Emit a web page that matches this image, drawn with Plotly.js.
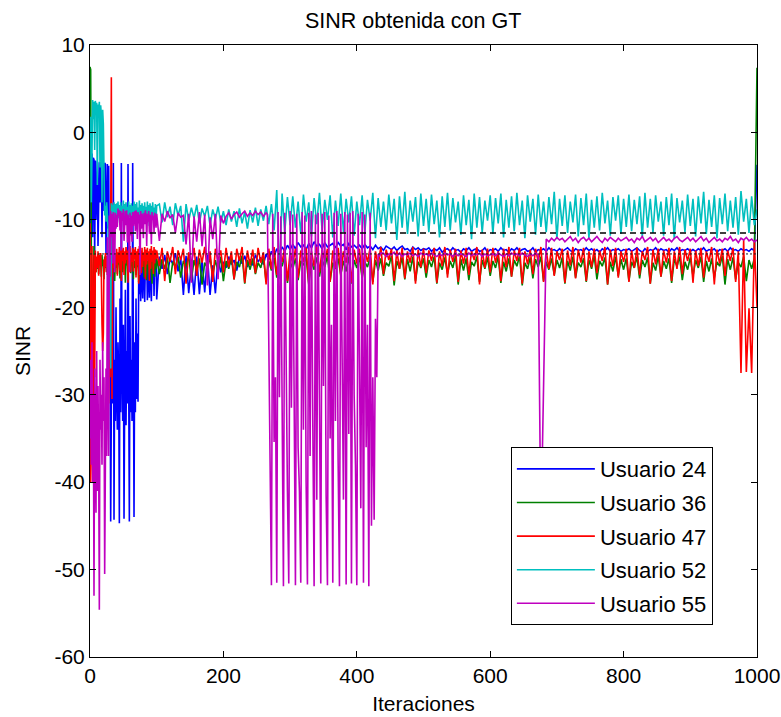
<!DOCTYPE html>
<html><head><meta charset="utf-8">
<script src="https://cdn.plot.ly/plotly-3.0.1.min.js"></script>
<style>html,body{margin:0;padding:0;background:#fff}#chart{width:781px;height:717px}</style>
</head><body><div id="chart"></div>
<script>
// Iteration grids (start, end, step) — sampling of the 1000 iterations
function malla(tramos) { const xs = []; for (const [a, b, p] of tramos) for (let v = a; v <= b; v += p) xs.push(v); return xs; }
const mallaGeneral = malla([[0, 100, 1], [104, 1000, 4]]);
const mallaU55 = malla([[0, 100, 1], [104, 264, 4], [266, 436, 2], [440, 1000, 4]]);

const nombres = ['Usuario 24', 'Usuario 36', 'Usuario 47', 'Usuario 52', 'Usuario 55'];
const colores = ['#0000ff', '#008000', '#ff0000', '#00bfbf', '#bf00bf'];
const umbrales = [-11.5, -13.9];

const usuario24 = [
  // 0..100 (step 1)
  -13.5,-2.0,-6.0,-2.4,-12.0,-2.9,-3.1,-14.0,-3.2,-10.0,
  -3.3,-3.3,-13.0,-3.4,-3.4,-8.0,-3.4,-3.5,-12.0,-3.5,
  -3.6,-9.0,-3.5,-3.6,-14.0,-3.7,-3.6,-11.0,-3.8,-16.0,
  -22.0,-44.5,-28.0,-18.0,-31.0,-3.5,-44.3,-26.0,-33.0,-20.0,
  -30.0,-34.0,-24.0,-28.0,-44.7,-19.0,-32.0,-3.5,-27.0,-33.0,
  -22.0,-44.2,-30.0,-18.0,-33.5,-25.0,-31.0,-3.6,-28.0,-44.5,
  -21.0,-32.0,-26.0,-33.0,-3.5,-29.0,-44.0,-24.0,-32.0,-19.0,
  -30.5,-23.0,-30.8,-17.0,-18.5,-15.0,-19.3,-14.5,-16.2,-19.0,
  -14.2,-15.5,-19.4,-14.8,-16.5,-14.1,-19.2,-15.0,-14.4,-18.9,
  -14.0,-15.8,-19.3,-14.6,-15.2,-14.3,-18.7,-14.9,-15.6,-14.2,
  -19.1,
  // 104..1000 (step 4)
  -14.2,-15.6,-14.0,-16.2,-14.5, -15.0,-13.8,-15.9,-14.4,-18.6, -14.1,-18.4,-15.0,-18.6,-14.2, -18.5,-14.6,-18.3,-14.0,-18.6, -15.2,-18.4,-14.3,-16.0,-14.8,
  -15.5,-14.2,-15.1,-14.6,-15.8, -14.3,-15.0,-14.1,-15.4,-14.5, -15.2,-14.0,-14.8,-14.3,-15.1, -13.9,-14.6,-13.6,-14.2,-13.3, -13.8,-13.1,-13.6,-12.9,-13.4,
  -12.8,-13.3,-12.6,-13.1,-12.9, -13.4,-12.7,-13.2,-12.5,-13.0, -12.8,-13.3,-12.6,-13.1,-12.9, -12.7,-13.2,-12.6,-13.0,-12.8, -13.4,-12.7,-13.1,-12.9,-13.2,
  -12.9,-13.3,-12.8,-13.2,-13.0, -13.4,-12.9,-13.3,-13.1,-13.5, -13.0,-13.2,-13.4,-13.1,-13.5, -13.2,-13.0,-13.4,-13.3,-13.6, -13.1,-13.4,-13.2,-13.5,-13.3,
  -13.4,-13.2,-13.6,-13.3,-13.5, -13.2,-13.7,-13.4,-13.3,-13.6, -13.2,-13.5,-13.4,-13.7,-13.3, -13.5,-13.2,-13.6,-13.4,-13.3, -13.6,-13.5,-13.2,-13.7,-13.4,
  -13.5,-13.3,-13.6,-13.2,-13.5, -13.4,-13.7,-13.3,-13.5,-13.2, -13.6,-13.4,-13.3,-13.6,-13.5, -13.2,-13.7,-13.4,-13.5,-13.3, -13.6,-13.2,-13.5,-13.4,-13.6,
  -13.3,-13.6,-13.4,-13.2,-13.5, -13.7,-13.3,-13.5,-13.4,-13.6, -13.2,-13.5,-13.3,-13.6,-13.4, -13.7,-13.3,-13.5,-13.2,-13.6, -13.4,-13.5,-13.3,-13.6,-13.4,
  -13.5,-13.3,-13.6,-13.4,-13.2, -13.5,-13.7,-13.3,-13.6,-13.4, -13.5,-13.2,-13.6,-13.3,-13.5, -13.4,-13.7,-13.3,-13.5,-13.2, -13.6,-13.4,-13.5,-13.3,-13.6,
  -13.4,-13.6,-13.3,-13.5,-13.2, -13.6,-13.4,-13.5,-13.3,-13.7, -13.4,-13.5,-13.3,-13.6,-13.2, -13.5,-13.4,-13.6,-13.3,-13.5, -13.4,-13.6,-13.3,-13.5,-3.7
];

const usuario36 = [
  7.5,7.2,-14.0,-22.0,-30.0,-18.0,-13.0,-20.0,-14.8,-16.0,
  -14.5,-15.6,-13.9,-16.2,-14.3,-15.1,-14.7,-16.5,-14.0,-15.3,
  -14.6,-16.8,-14.2,-15.5,-14.9,-16.0,-14.1,-15.7,-14.4,-16.4,
  -14.8,-15.2,-14.0,-16.6,-14.5,-15.4,-14.2,-17.0,-14.7,-15.5,
  -14.3,-16.2,-14.9,-15.1,-14.0,-16.7,-14.6,-15.3,-14.4,-16.0,
  -14.8,-15.6,-14.1,-17.2,-14.5,-15.2,-14.3,-16.4,-14.9,-15.7,
  -14.2,-16.1,-14.6,-15.3,-14.0,-16.8,-14.7,-15.5,-14.4,-16.3,
  -14.8,-15.4,-14.1,-17.1,-14.5,-15.8,-14.3,-16.0,-14.9,-15.2,
  -14.2,-16.6,-14.6,-15.5,-14.0,-16.9,-14.7,-15.3,-14.4,-16.2,
  -14.8,-15.7,-14.2,-17.3,-14.5,-15.4,-14.3,-16.5,-14.9,-15.6,
  -14.4,
  -16.2,-14.5,-15.6,-14.3,-17.2, -14.8,-15.4,-14.2,-16.6,-14.7, -15.3,-14.1,-16.9,-14.6,-15.8, -14.4,-17.4,-14.9,-15.5,-14.3, -16.4,-14.6,-15.9,-14.2,-17.0,
  -14.7,-15.6,-14.3,-16.8,-14.8, -15.4,-14.1,-17.3,-14.6,-15.7, -14.4,-16.2,-14.9,-15.5,-14.2, -17.1,-14.7,-15.8,-14.3,-16.6, -14.5,-15.3,-14.1,-17.2,-14.8,
  -15.6,-14.4,-16.9,-14.7,-15.2, -14.2,-17.4,-14.8,-15.7,-14.3, -16.5,-14.6,-15.4,-14.1,-17.0, -14.9,-15.6,-14.4,-16.3,-14.7, -15.9,-14.2,-17.3,-14.6,-15.5,
  -14.3,-16.7,-14.8,-15.4,-14.2, -17.1,-14.6,-15.8,-14.4,-16.4, -14.9,-15.3,-14.1,-17.5,-14.7, -15.6,-14.3,-16.8,-14.5,-15.9, -14.2,-17.0,-14.8,-15.5,-14.4,
  -16.6,-14.6,-15.4,-14.2,-17.3, -14.9,-15.7,-14.3,-16.2,-14.7, -15.5,-14.1,-17.4,-14.5,-15.8, -14.4,-16.9,-14.8,-15.3,-14.2, -17.1,-14.6,-15.6,-14.3,-16.4,
  -14.7,-15.5,-14.2,-17.2,-14.8, -15.9,-14.4,-16.5,-14.6,-15.3, -14.1,-17.5,-14.9,-15.6,-14.3, -16.7,-14.5,-15.4,-14.2,-17.0, -14.8,-15.7,-14.4,-16.3,-14.6,
  -15.5,-14.3,-17.3,-14.7,-15.8, -14.2,-16.6,-14.9,-15.4,-14.4, -17.1,-14.6,-15.6,-14.1,-16.8, -14.7,-15.3,-14.3,-17.4,-14.8, -15.9,-14.2,-16.4,-14.5,-15.7,
  -14.4,-17.0,-14.8,-15.5,-14.2, -16.7,-14.6,-15.4,-14.3,-17.3, -14.9,-15.8,-14.1,-16.5,-14.7, -15.6,-14.4,-17.2,-14.5,-15.3, -14.2,-16.9,-14.8,-15.7,-14.3,
  -16.4,-14.6,-15.5,-14.2,-17.1, -14.7,-15.9,-14.4,-16.6,-14.8, -15.3,-14.1,-17.4,-14.5,-15.7, -14.3,-16.8,-14.9,-15.4,-14.2, -17.0,-14.6,-15.6,-14.4,7.4
];

const usuario47 = [
  -10.4,-40.0,-36.0,-13.0,-26.0,-30.0,-14.0,-28.0,-13.5,-16.0,
  -14.2,-15.5,-13.6,-16.4,-14.0,-15.2,-13.8,-16.0,-22.0,-25.0,
  -23.0,-14.5,-16.0,-13.8,-15.4,-14.1,-16.3,-13.9,-31.0,-22.0,
  -28.0,-14.0,6.3,-30.5,-13.5,-15.5,-13.2,-16.0,-14.0,-15.2,
  -13.3,-16.4,-13.7,-14.9,-13.1,-15.8,-13.5,-17.0,-13.4,-14.7,
  -13.2,-16.3,-13.6,-15.0,-13.1,-14.6,-13.5,-17.2,-13.3,-15.5,
  -13.0,-16.0,-13.7,-14.8,-13.2,-15.9,-13.4,-14.5,-13.1,-16.6,
  -13.6,-15.2,-13.3,-17.3,-13.0,-14.9,-13.5,-16.1,-13.2,-15.4,
  -13.7,-14.7,-13.1,-16.8,-13.4,-15.1,-13.2,-14.6,-13.6,-17.0,
  -13.3,-15.6,-13.0,-14.8,-13.5,-16.2,-13.1,-15.0,-13.4,-14.5,
  -13.5,
  -15.3,-13.2,-17.0,-13.6,-14.8, -13.1,-16.2,-13.5,-14.6,-13.3, -17.3,-13.7,-15.0,-13.2,-16.4, -13.4,-14.9,-13.1,-15.7,-13.6, -17.1,-13.3,-14.7,-13.5,-16.0,
  -13.2,-15.4,-13.6,-16.8,-13.3, -14.7,-13.1,-17.2,-13.5,-15.2, -13.4,-16.1,-13.2,-14.9,-13.7, -17.4,-13.3,-15.6,-13.1,-16.3, -13.5,-14.8,-13.2,-17.0,-13.6,
  -15.1,-13.3,-16.6,-13.5,-14.8, -13.2,-17.3,-13.6,-15.3,-13.1, -16.0,-13.4,-14.7,-13.3,-17.1, -13.5,-15.5,-13.2,-16.4,-13.6, -14.9,-13.1,-17.2,-13.4,-15.0,
  -13.3,-16.5,-13.5,-14.8,-13.2, -17.4,-13.6,-15.2,-13.1,-16.2, -13.4,-14.6,-13.3,-17.0,-13.5, -15.6,-13.2,-16.7,-13.6,-14.9, -13.1,-17.3,-13.4,-15.4,-13.3,
  -16.1,-13.5,-14.7,-13.2,-17.2, -13.6,-15.3,-13.1,-16.6,-13.4, -14.8,-13.3,-17.1,-13.5,-15.0, -13.2,-16.3,-13.6,-14.6,-13.1, -17.4,-13.4,-15.5,-13.3,-16.0,
  -13.2,-14.9,-13.6,-17.0,-13.3, -15.4,-13.1,-16.5,-13.5,-14.7, -13.2,-17.3,-13.6,-15.1,-13.4, -16.2,-13.3,-14.8,-13.1,-17.1, -13.5,-15.6,-13.2,-16.4,-13.6,
  -14.6,-13.3,-17.2,-13.5,-15.2, -13.1,-16.7,-13.4,-14.9,-13.2, -17.0,-13.6,-15.4,-13.3,-16.1, -13.5,-14.7,-13.1,-17.4,-13.4, -15.3,-13.2,-16.6,-13.6,-14.8,
  -13.3,-17.1,-13.5,-15.5,-13.2, -16.3,-13.6,-14.6,-13.1,-17.3, -13.4,-15.1,-13.3,-16.5,-13.5, -14.9,-13.2,-17.0,-13.6,-15.6, -13.1,-16.2,-13.4,-14.7,-13.3,
  -17.2,-13.5,-15.3,-13.2,-16.6, -13.6,-14.8,-13.1,-17.4,-13.4, -15.0,-13.3,-16.4,-13.5,-14.7, -13.2,-17.1,-13.6,-27.5,-12.3, -27.4,-20.1,-27.5,-12.4,-20.0
];

const usuario52 = [
  0.5,1.8,-8.0,0.2,3.7,1.5,3.5,-2.0,3.6,2.8,
  3.4,-6.0,3.2,2.5,3.5,-4.0,3.1,2.0,-8.0,2.6,
  1.0,-8.2,-9.5,-8.4,-10.2,-8.0,-9.1,-10.8,-26.0,-12.0,
  -10.0,-27.0,-8.1,-10.5,-8.3,-9.6,-8.0,-10.2,-8.2,-9.4,
  -8.1,-10.3,-7.9,-9.8,-8.3,-10.6,-8.0,-9.5,-8.4,-10.1,
  -7.8,-9.9,-8.2,-10.4,-8.0,-9.6,-8.5,-10.2,-7.9,-9.7,
  -8.3,-10.5,-8.1,-9.4,-8.4,-10.0,-7.9,-9.8,-8.2,-10.6,
  -8.0,-9.5,-8.6,-10.3,-7.8,-9.9,-8.3,-10.1,-8.1,-9.6,
  -8.4,-10.4,-8.0,-9.7,-8.5,-10.2,-7.9,-9.5,-8.3,-10.7,
  -8.1,-9.8,-8.4,-10.0,-8.0,-9.6,-8.6,-10.3,-8.2,-9.9,
  -8.4,
  -8.2,-10.3,-8.0,-9.7,-8.5, -10.6,-8.1,-9.5,-8.4,-12.5, -8.2,-10.1,-8.6,-9.8,-8.3, -10.4,-8.7,-9.6,-8.4,-10.7, -8.8,-9.9,-8.5,-10.3,-9.0,
  -10.6,-8.8,-10.2,-9.0,-10.8, -8.7,-10.4,-9.1,-11.0,-8.9, -10.3,-8.6,-10.7,-8.8,-10.1, -8.4,-10.5,-8.2,-11.2,-6.6, -16.8,-7.0,-11.5,-7.4,-10.6,
  -7.3,-10.9,-7.9,-11.6,-7.1, -10.2,-8.0,-11.9,-7.5,-10.5, -6.9,-11.3,-7.7,-10.0,-7.2, -12.0,-7.8,-10.7,-7.0,-11.4, -7.6,-10.3,-7.3,-11.8,-7.9,
  -10.6,-7.2,-11.5,-7.7,-10.1, -6.9,-12.1,-7.5,-10.8,-7.9, -11.2,-7.1,-10.4,-7.6,-12.3, -7.3,-10.9,-6.8,-11.6,-7.8, -10.2,-7.4,-11.9,-7.0,-10.7,
  -7.6,-11.4,-7.1,-10.5,-7.8, -12.0,-7.3,-10.8,-6.9,-11.2, -7.5,-10.3,-7.9,-11.7,-7.2, -10.6,-7.7,-12.2,-7.0,-10.9, -7.4,-11.5,-7.8,-10.1,-7.2,
  -11.6,-7.5,-10.4,-7.0,-12.0, -7.7,-10.9,-7.3,-11.3,-6.9, -10.6,-7.8,-12.1,-7.2,-10.2, -7.6,-11.7,-7.1,-10.8,-7.9, -11.4,-7.4,-10.5,-6.8,-12.2,
  -7.6,-10.7,-7.2,-11.5,-7.9, -10.3,-7.1,-11.9,-7.5,-10.6, -7.0,-12.1,-7.7,-10.9,-7.3, -11.2,-6.9,-10.4,-7.8,-11.8, -7.4,-10.1,-7.2,-11.6,-7.6,
  -10.8,-7.1,-11.3,-7.7,-10.5, -7.3,-12.0,-6.9,-10.9,-7.6, -11.5,-7.2,-10.2,-7.9,-11.8, -7.4,-10.6,-7.0,-12.2,-7.5, -10.3,-7.8,-11.4,-7.1,-10.7,
  -7.6,-11.9,-7.3,-10.4,-6.8, -11.6,-7.7,-10.8,-7.2,-12.1, -7.5,-10.5,-7.0,-11.3,-7.8, -10.9,-7.4,-11.7,-6.7,-10.2, -7.6,-11.5,-7.3,-10.6,-8.8
];

const usuario55 = [
  // 0..100 (step 1)
  -35.0,-26.0,-38.0,-24.0,-40.0,-30.0,-53.0,-27.0,-36.0,-43.5,
  -25.0,-41.0,-29.0,-37.0,-54.6,-26.0,-34.0,-30.0,-38.0,-24.0,
  -33.0,-28.0,-50.5,-36.0,-27.0,-37.0,-12.0,-30.0,-37.0,-9.5,
  -16.5,-9.0,-12.0,-9.3,-15.0,-9.1,-10.5,-16.0,-9.2,-11.0,
  -9.4,-10.8,-8.7,-9.6,-8.9,-11.2,-9.0,-13.5,-9.2,-10.1,
  -8.8,-12.4,-9.3,-9.0,-10.6,-8.9,-12.6,-9.4,-10.3,-16.0,
  -9.2,-11.8,-9.5,-12.5,-9.1,-10.7,-9.6,-9.0,-11.3,-8.9,
  -9.7,-12.2,-9.1,-10.4,-9.4,-16.3,-9.0,-11.0,-9.3,-9.8,
  -12.1,-9.2,-10.5,-8.9,-9.6,-13.0,-9.3,-10.2,-9.0,-11.6,
  -9.4,-9.8,-12.8,-9.1,-10.0,-9.5,-11.4,-9.2,-9.7,-10.9,
  -9.3,
  // 104..264 (step 4)
  -12.4,-9.3,-10.2,-9.0,-9.8, -9.4,-11.5,-9.2,-9.7,-9.5, -12.8,-9.3,-17.2,-9.6,-12.5, -9.1,-13.0,-9.4,-17.5,-9.7, -12.2,-9.3,-16.8,-9.5,-10.4,
  -9.6,-9.2,-9.9,-9.4,-9.1, -9.7,-9.3,-9.0,-9.6,-9.2, -9.5,-9.0,-9.4,-9.1,-9.6, -9.2,
  // 266..436 (step 2)
  -9.4,-22.3,-40.0,-51.8,-9.3, -35.4,-28.0,-51.5,-9.1,-30.3,
  -9.6,-36.6,-51.9,-9.2,-29.0, -41.0,-51.6,-9.0,-31.5,-9.4,
  -29.6,-51.8,-9.3,-36.0,-41.0, -51.5,-9.1,-34.0,-9.5,-40.0,
  -51.7,-9.2,-37.0,-9.0,-33.0, -51.9,-9.4,-42.0,-9.2,-38.5,
  -51.6,-9.3,-29.0,-9.1,-41.5, -51.8,-9.5,-35.0,-22.0,-51.5,
  -9.2,-33.0,-9.0,-37.5,-51.9, -9.3,-28.0,-42.0,-9.1,-51.7,
  -9.4,-34.5,-9.2,-51.6,-9.0, -30.0,-38.0,-51.8,-9.3,-24.0,
  -43.0,-9.1,-51.5,-9.4,-36.0, -22.0,-51.9,-9.2,-45.0,-28.0,
  -44.3,-21.3,-28.0,-13.9,-14.1, -13.8,
  // 440..1000 (step 4)
  -13.8,-14.2,-13.9,-14.0,-13.7, -14.1,-13.8,-14.2,-13.9,-14.0, -13.8,-14.1,-13.9,-14.2,-13.8, -14.0,
  -13.9,-14.1,-13.8,-14.0,-14.2, -13.9,-14.1,-13.8,-14.0,-13.9, -14.2,-13.8,-14.1,-13.9,-14.0, -14.2,-13.8,-14.1,-13.9,-14.0, -13.8,-14.2,-13.9,-14.1,-14.0,
  -13.9,-14.1,-13.8,-14.0,-14.2, -13.9,-14.1,-13.8,-14.0,-13.9, -14.1,-13.8,-14.0,-14.2,-13.9, -14.1,-13.8,-14.0,-46.0,-28.1, -12.2,-12.5,-12.1,-12.4,-12.0,
  -12.3,-12.1,-12.5,-12.2,-11.9, -12.4,-12.1,-12.6,-12.2,-12.0, -12.4,-12.1,-12.5,-12.2,-11.9, -12.3,-12.6,-12.1,-12.4,-12.0, -12.3,-12.5,-12.1,-12.4,-12.2,
  -12.0,-12.4,-12.2,-12.6,-12.1, -12.3,-11.9,-12.5,-12.2,-12.0, -12.4,-12.1,-12.6,-12.3,-12.0, -12.4,-12.2,-12.5,-12.1,-11.9, -12.3,-12.5,-12.2,-12.0,-12.4,
  -12.1,-12.5,-12.2,-11.9,-12.4, -12.1,-12.6,-12.3,-12.0,-12.4, -12.2,-12.5,-12.1,-12.3,-11.9, -12.4,-12.2,-12.6,-12.1,-12.3, -12.0,-12.4,-12.2,-12.5,-12.3
];

const series = [usuario24, usuario36, usuario47, usuario52, usuario55];
const mallas = [mallaGeneral, mallaGeneral, mallaGeneral, mallaGeneral, mallaU55];
const xTicks = [0, 200, 400, 600, 800, 1000];
const yTicks = [-60, -50, -40, -30, -20, -10, 0, 10];

const fuente = 'Liberation Sans, Arial, sans-serif';

const traces = series.map((vals, i) => ({
  type: 'scatter', mode: 'lines', name: nombres[i], legendgroup: 'g' + i,
  x: mallas[i], y: vals,
  line: {color: colores[i], width: 1.6}
}));

const xFin = [mallaGeneral[0], mallaGeneral[mallaGeneral.length - 1]];
traces.push({type: 'scatter', mode: 'lines', showlegend: false, x: xFin, y: [umbrales[0], umbrales[0]],
  line: {color: '#000', width: 1.6, dash: '6px,4px'}});
traces.push({type: 'scatter', mode: 'lines', showlegend: false, x: xFin, y: [umbrales[1], umbrales[1]],
  line: {color: '#1a1a1a', width: 1, dash: '2px,2px'}});

const layout = {
  width: 781, height: 717,
  margin: {l: 90, r: 24, t: 45, b: 60},
  paper_bgcolor: '#fff', plot_bgcolor: '#fff',
  font: {family: fuente, size: 20, color: '#000'},
  title: {text: 'SINR obtenida con GT', font: {family: fuente, size: 21.5, color: '#000'},
          xref: 'container', x: 0.529, xanchor: 'center', yref: 'container', y: 0.972, yanchor: 'middle'},
  showlegend: true,
  legend: {x: 0.631, y: 0.343, xanchor: 'left', yanchor: 'top', bgcolor: '#fff',
           bordercolor: '#000', borderwidth: 1, font: {family: fuente, size: 22, color: '#000'},
           tracegroupgap: 2, itemwidth: 78},
  xaxis: {range: [0, 1000], tickvals: xTicks, ticktext: xTicks.map(String), ticks: 'inside', ticklen: 6,
          tickcolor: '#000', showline: true, linecolor: '#000', linewidth: 1, mirror: 'ticks',
          showgrid: false, zeroline: false, tickfont: {family: fuente, size: 21, color: '#000'},
          title: {text: 'Iteraciones', font: {family: fuente, size: 21, color: '#000'}, standoff: 10}},
  yaxis: {range: [-60, 10], tickvals: yTicks, ticktext: yTicks.map(String), ticks: 'inside', ticklen: 6,
          tickcolor: '#000', showline: true, linecolor: '#000', linewidth: 1, mirror: 'ticks',
          showgrid: false, zeroline: false, tickfont: {family: fuente, size: 21, color: '#000'},
          title: {text: 'SINR', font: {family: fuente, size: 21, color: '#000'}, standoff: 18}}
};

Plotly.newPlot('chart', traces, layout, {staticPlot: true, displayModeBar: false});
</script></body></html>
